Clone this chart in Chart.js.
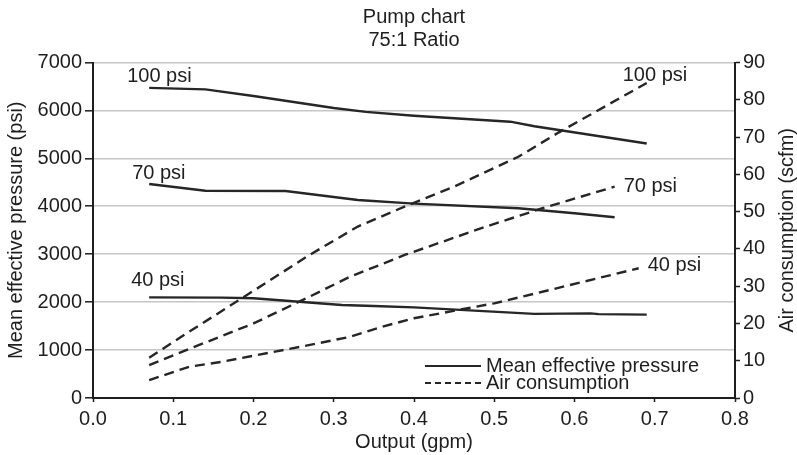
<!DOCTYPE html>
<html>
<head>
<meta charset="utf-8">
<title>Pump chart</title>
<script src="https://cdn.jsdelivr.net/npm/chart.js@4.4.0/dist/chart.umd.min.js"></script>
<style>
  body { margin: 0; background: #fff; }
  #wrap { width: 797px; height: 455px; }
</style>
</head>
<body>
<div id="wrap"><canvas id="grafico" width="797" height="455"></canvas></div>
<script>
// output (gpm) / mean effective pressure (psi)
const mep100X = [0.07, 0.14, 0.20, 0.30, 0.34, 0.40, 0.52, 0.55, 0.69];
const mep100Y = [6470, 6440, 6300, 6050, 5970, 5890, 5765, 5670, 5310];
const mep70X = [0.07, 0.14, 0.24, 0.33, 0.40, 0.53, 0.60, 0.65];
const mep70Y = [4465, 4325, 4320, 4130, 4055, 3960, 3855, 3770];
const mep40X = [0.07, 0.16, 0.20, 0.31, 0.35, 0.40, 0.55, 0.62, 0.63, 0.69];
const mep40Y = [2100, 2095, 2080, 1940, 1920, 1890, 1755, 1765, 1750, 1740];

// output (gpm) / air consumption (scfm)
const air100X = [0.07, 0.12, 0.18, 0.27, 0.33, 0.39, 0.45, 0.53, 0.58, 0.69];
const air100Y = [10.8, 17.8, 26.0, 38.4, 46.0, 51.5, 56.7, 64.7, 71.2, 84.5];
const air70X = [0.07, 0.125, 0.20, 0.27, 0.32, 0.39, 0.49, 0.56, 0.65];
const air70Y = [8.8, 13.6, 20.0, 27.2, 32.5, 38.5, 46.0, 50.9, 56.7];
const air40X = [0.07, 0.12, 0.16, 0.26, 0.32, 0.36, 0.40, 0.50, 0.56, 0.68];
const air40Y = [4.8, 8.4, 9.7, 13.8, 16.4, 19.1, 21.4, 25.4, 28.5, 34.8];

const pressureLabels = ['100 psi', '70 psi', '40 psi'];
const seriesNames = ['Mean effective pressure', 'Air consumption'];
const titleLines = ['Pump chart', '75:1 Ratio'];

const FONT = '"Liberation Sans", Arial, sans-serif';
const INK = '#1e1e1e';
Chart.defaults.font.family = FONT;
Chart.defaults.font.size = 20;
Chart.defaults.color = INK;

function pontos(xs, ys) {
    return xs.map((x, i) => ({ x: x, y: ys[i] }));
}

function serie(nome, xs, ys, eixo, tracejado) {
    return {
        label: nome,
        data: pontos(xs, ys),
        yAxisID: eixo,
        borderColor: '#262626',
        borderWidth: 2.4,
        borderDash: tracejado ? [10, 6] : [],
        pointRadius: 0,
        tension: 0,
        fill: false
    };
}

// psi annotations: dataset index, which end of the line, offset of the text
const rotulos = [
    { ds: 0, fim: false, dx: -22, dy: -11, texto: pressureLabels[0] },
    { ds: 1, fim: false, dx: -17, dy: -11, texto: pressureLabels[1] },
    { ds: 2, fim: false, dx: -18, dy: -17, texto: pressureLabels[2] },
    { ds: 3, fim: true, dx: -24, dy: -8, texto: pressureLabels[0] },
    { ds: 4, fim: true, dx: 9, dy: 0, texto: pressureLabels[1] },
    { ds: 5, fim: true, dx: 9, dy: -3, texto: pressureLabels[2] }
];

const extras = {
    id: 'extras',
    afterDraw(chart) {
        const ctx = chart.ctx;
        const area = chart.chartArea;
        ctx.save();
        ctx.fillStyle = INK;
        ctx.font = '20px ' + FONT;

        // title
        ctx.textAlign = 'center';
        ctx.textBaseline = 'middle';
        const cx = (area.left + area.right) / 2;
        ctx.fillText(titleLines[0], cx, 17);
        ctx.fillText(titleLines[1], cx, 40);

        // psi labels next to the curves
        ctx.textAlign = 'left';
        rotulos.forEach(r => {
            const pts = chart.getDatasetMeta(r.ds).data;
            const p = r.fim ? pts[pts.length - 1] : pts[0];
            ctx.fillText(r.texto, p.x + r.dx, p.y + r.dy);
        });

        // legend inside the plot
        const lx = area.left + 332;
        const ly = area.bottom - 32;
        ctx.strokeStyle = '#262626';
        ctx.lineWidth = 2;
        ctx.setLineDash([]);
        ctx.beginPath();
        ctx.moveTo(lx, ly);
        ctx.lineTo(lx + 56, ly);
        ctx.stroke();
        ctx.setLineDash([6, 4]);
        ctx.beginPath();
        ctx.moveTo(lx, ly + 17);
        ctx.lineTo(lx + 56, ly + 17);
        ctx.stroke();
        ctx.setLineDash([]);
        ctx.fillText(seriesNames[0], lx + 61, ly);
        ctx.fillText(seriesNames[1], lx + 61, ly + 17);

        // right axis title, reading bottom to top
        ctx.translate(787, (area.top + area.bottom) / 2);
        ctx.rotate(-Math.PI / 2);
        ctx.textAlign = 'center';
        ctx.fillText('Air consumption (scfm)', 0, 0);
        ctx.restore();
    }
};

const fundo = {
    id: 'fundo',
    beforeDraw(chart) {
        const ctx = chart.ctx;
        ctx.save();
        ctx.fillStyle = '#fff';
        ctx.fillRect(0, 0, chart.width, chart.height);
        ctx.restore();
    }
};

new Chart(document.getElementById('grafico'), {
    type: 'line',
    data: {
        datasets: [
            serie(seriesNames[0] + ' 100', mep100X, mep100Y, 'y', false),
            serie(seriesNames[0] + ' 70', mep70X, mep70Y, 'y', false),
            serie(seriesNames[0] + ' 40', mep40X, mep40Y, 'y', false),
            serie(seriesNames[1] + ' 100', air100X, air100Y, 'y2', true),
            serie(seriesNames[1] + ' 70', air70X, air70Y, 'y2', true),
            serie(seriesNames[1] + ' 40', air40X, air40Y, 'y2', true)
        ]
    },
    options: {
        responsive: false,
        animation: false,
        devicePixelRatio: 1,
        layout: { padding: { top: 62.5, left: 0, right: 0, bottom: 0 } },
        plugins: {
            legend: { display: false },
            title: { display: false },
            tooltip: { enabled: false }
        },
        scales: {
            x: {
                type: 'linear',
                min: 0,
                max: 0.8,
                ticks: { stepSize: 0.1, padding: 5, callback: v => v.toFixed(1) },
                grid: { drawOnChartArea: false, tickLength: 4, tickColor: INK, tickWidth: 1.5 },
                border: { color: INK, width: 2 },
                title: { display: true, text: 'Output (gpm)', padding: { top: 0, bottom: 1 } },
                afterFit: s => { s.height = 57; }
            },
            y: {
                position: 'left',
                min: 0,
                max: 7000,
                ticks: { stepSize: 1000, padding: 3, callback: v => String(v) },
                grid: { color: '#c6c6c6', lineWidth: 1.6, tickLength: 8, tickColor: INK, tickWidth: 1.5 },
                border: { color: INK, width: 2 },
                title: { display: true, text: 'Mean effective pressure (psi)', padding: { top: 4, bottom: 0 } },
                afterFit: s => { s.width = 93; }
            },
            y2: {
                position: 'right',
                min: 0,
                max: 90,
                ticks: { stepSize: 10, padding: 3, callback: v => String(v) },
                grid: { drawOnChartArea: false, tickLength: 5, tickColor: INK, tickWidth: 1.5 },
                border: { color: INK, width: 2 },
                afterFit: s => { s.width = 62; }
            }
        }
    },
    plugins: [fundo, extras]
});
</script>
</body>
</html>
